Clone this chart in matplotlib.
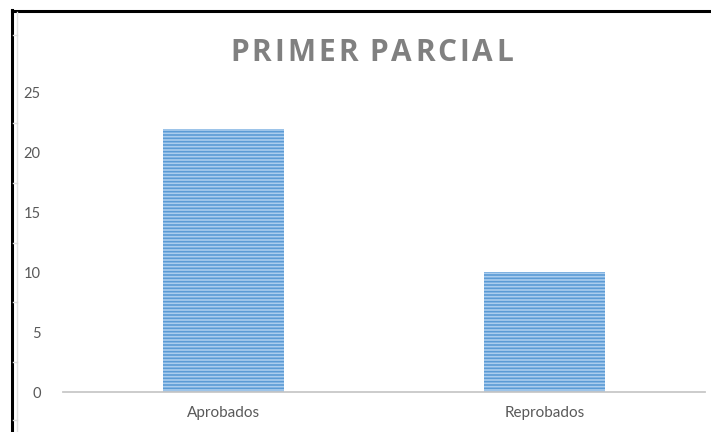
import matplotlib.pyplot as plt
from matplotlib.lines import Line2D

categories = ['Aprobados', 'Reprobados']
values = [22, 10]
y_ticks = [0, 5, 10, 15, 20, 25]
title = 'PRIMER PARCIAL'

plt.rcParams['hatch.linewidth'] = 1.2

fig = plt.figure(figsize=(7.11, 4.32), dpi=100)
ax = fig.add_axes([63 / 711, 40 / 432, 642 / 711, 299 / 432])

ax.bar(range(len(categories)), values, width=0.377, color='#abcdee',
       edgecolor='#5b9bd5', linewidth=0, hatch='-----', zorder=2)

ax.set_xlim(-0.5, len(categories) - 0.5)
ax.set_ylim(0, 25)
ax.set_yticks(y_ticks)
ax.set_xticks(range(len(categories)))
ax.set_xticklabels(categories)

for s in ['top', 'right', 'left']:
    ax.spines[s].set_visible(False)
ax.spines['bottom'].set_color('#c8c8c8')
ax.spines['bottom'].set_linewidth(1.3)
ax.tick_params(axis='both', length=0, labelsize=10.5, labelcolor='#595959')
ax.tick_params(axis='y', pad=16)
ax.tick_params(axis='x', pad=10)
for lbl in ax.get_xticklabels() + ax.get_yticklabels():
    lbl.set_family('Lato')
for lbl in ax.get_xticklabels():
    lbl.set_fontsize(11)

# spaced-out title, letter by letter
renderer = fig.canvas.get_renderer()
tkw = dict(fontsize=21.5, fontweight='bold', color='#808080', family='Open Sans',
           va='center', ha='left')
spacing = 3.0
widths = []
for ch in title:
    t = fig.text(0, 0, ch if ch != ' ' else 'I', **tkw)
    w = t.get_window_extent(renderer).width
    widths.append(w * 0.6 if ch == ' ' else w)
    t.remove()
total = sum(widths) + spacing * (len(title) - 1)
x = 371.5 - total / 2
for ch, w in zip(title, widths):
    if ch != ' ':
        fig.text(x / 711, 1 - 53 / 432, ch, **tkw)
    x += w + spacing

# sheet border and the faint column line next to it
fig.add_artist(Line2D([11.5 / 711, 1], [1 - 10.5 / 432] * 2, color='black', lw=2.2))
fig.add_artist(Line2D([12 / 711] * 2, [0, 1 - 9.5 / 432], color='black', lw=2.2))
fig.add_artist(Line2D([16.5 / 711] * 2, [0, 1 - 12 / 432], color='#e0e0e0', lw=1))
for yy in [35, 123, 183, 243, 302, 362, 420]:
    fig.add_artist(Line2D([13 / 711, 17 / 711], [1 - yy / 432] * 2, color='#dcdcdc', lw=1))

fig.savefig('out.png', dpi=100)
